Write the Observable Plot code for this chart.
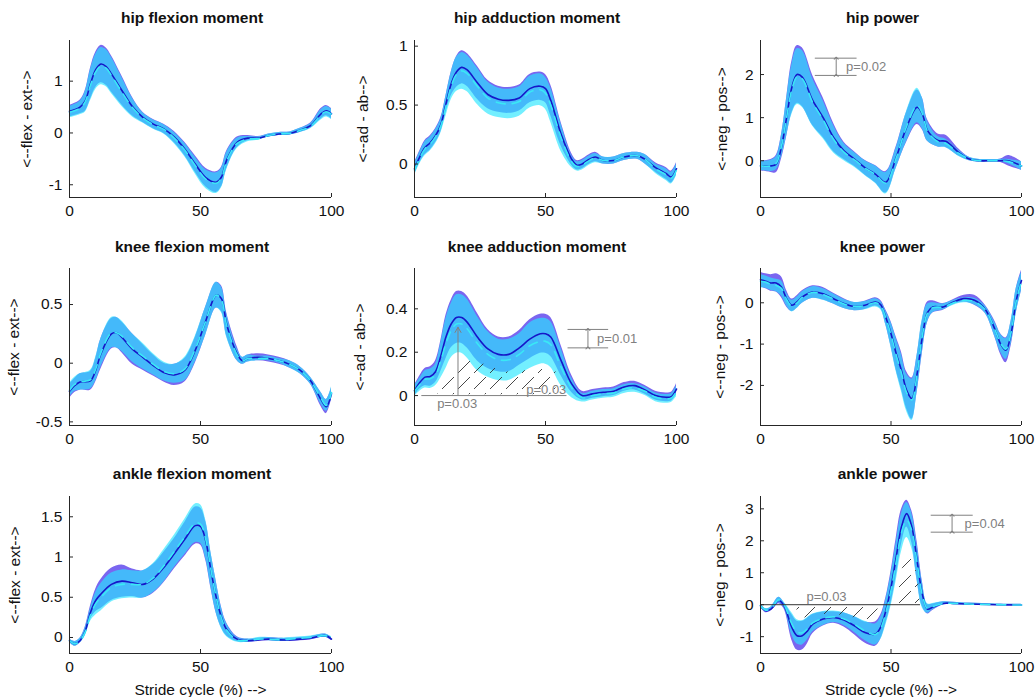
<!DOCTYPE html>
<html><head><meta charset="utf-8">
<script src="https://cdn.jsdelivr.net/npm/d3@7"></script>
<script src="https://cdn.jsdelivr.net/npm/@observablehq/plot@0.6"></script>
<style>
body{margin:0;background:#fff;font-family:"Liberation Sans",Arial,Helvetica,sans-serif;}
#root{position:relative;width:1036px;height:697px;overflow:hidden;}
.panel{position:absolute;}
.title{position:absolute;font-weight:bold;font-size:15.5px;line-height:15.5px;color:#111;white-space:nowrap;transform:translateX(-50%);}
</style>
</head><body>
<svg width="0" height="0" style="position:absolute"><defs>
<pattern id="hatch" patternUnits="userSpaceOnUse" width="16" height="16"><path d="M1,15 L13,3" stroke="#333" stroke-width="0.9" fill="none"/></pattern>
</defs></svg>
<div id="root"></div>
<script>
// ---------- data ----------
const xTicks = [0, 50, 100];
const xDomain = [0, 100];

// hip flexion moment
const hipFlexX  = [0,4,6,8,10,12,14,16,20,24,28,32,36,40,44,48,52,56,58,60,64,68,72,76,80,84,88,92,96,98,100];
const hipFlexM1 = [0.42,0.50,0.62,0.95,1.22,1.33,1.28,1.14,0.82,0.51,0.30,0.17,0.08,-0.08,-0.31,-0.60,-0.86,-0.95,-0.85,-0.52,-0.18,-0.10,-0.10,-0.05,-0.02,-0.01,0.05,0.14,0.37,0.43,0.37];
const hipFlexS1 = [0.11,0.13,0.2,0.3,0.34,0.36,0.36,0.35,0.28,0.18,0.1,0.09,0.09,0.11,0.13,0.16,0.18,0.2,0.19,0.17,0.1,0.05,0.03,0.03,0.03,0.03,0.04,0.05,0.1,0.1,0.1];
const hipFlexM2 = [0.40,0.48,0.60,0.92,1.18,1.29,1.25,1.11,0.79,0.49,0.29,0.16,0.07,-0.10,-0.33,-0.63,-0.89,-0.97,-0.87,-0.54,-0.20,-0.12,-0.11,-0.05,-0.02,-0.01,0.05,0.13,0.35,0.41,0.36];
const hipFlexS2 = [0.11,0.13,0.2,0.3,0.34,0.36,0.36,0.35,0.28,0.18,0.1,0.09,0.09,0.11,0.13,0.16,0.18,0.2,0.19,0.17,0.1,0.05,0.03,0.03,0.03,0.03,0.04,0.05,0.1,0.1,0.1];
const hipFlexDomain = [-1.246, 1.785];
const hipFlexTicks = [-1, 0, 1];

// hip adduction moment
const hipAddX  = [0,2,4,6,8,10,12,14,16,18,20,24,28,32,36,40,44,48,50,52,56,60,62,64,66,69,72,76,80,85,88,92,96,98,100];
const hipAddM1 = [-0.04,0.06,0.14,0.18,0.24,0.33,0.51,0.68,0.78,0.82,0.80,0.69,0.59,0.55,0.54,0.56,0.64,0.66,0.64,0.54,0.25,0.04,-0.01,0.0,0.03,0.06,0.03,0.03,0.06,0.07,0.04,-0.03,-0.08,-0.11,-0.04];
const hipAddS1 = [0.05,0.05,0.06,0.06,0.06,0.06,0.07,0.1,0.13,0.14,0.14,0.14,0.12,0.11,0.11,0.11,0.12,0.12,0.12,0.13,0.1,0.05,0.04,0.04,0.04,0.04,0.03,0.03,0.03,0.03,0.04,0.04,0.05,0.05,0.05];
const hipAddM2 = [-0.05,0.05,0.13,0.17,0.23,0.32,0.49,0.66,0.76,0.79,0.77,0.66,0.56,0.52,0.51,0.53,0.61,0.63,0.60,0.50,0.22,0.02,-0.02,-0.01,0.02,0.05,0.03,0.03,0.06,0.07,0.04,-0.04,-0.09,-0.12,-0.05];
const hipAddS2 = [0.05,0.05,0.06,0.06,0.06,0.06,0.085,0.115,0.145,0.155,0.155,0.155,0.135,0.125,0.125,0.125,0.135,0.135,0.135,0.145,0.115,0.05,0.04,0.04,0.04,0.04,0.03,0.03,0.03,0.03,0.04,0.04,0.05,0.05,0.05];
const hipAddDomain = [-0.284, 1.048];
const hipAddTicks = [0, 0.5, 1];

// hip power
const hipPowX  = [0,4,6,8,10,12,14,16,20,24,28,32,36,40,44,48,52,56,60,62,64,68,71,76,80,84,88,92,95,100];
const hipPowM1 = [-0.12,-0.12,-0.08,0.31,1.0,1.7,2.0,1.94,1.4,1.0,0.54,0.23,0.04,-0.16,-0.31,-0.5,0.08,0.78,1.24,1.09,0.70,0.47,0.45,0.19,0.04,0.0,0.0,0.0,0.0,-0.12];
const hipPowS1 = [0.11,0.15,0.2,0.28,0.45,0.6,0.67,0.68,0.58,0.46,0.33,0.2,0.17,0.17,0.2,0.25,0.25,0.35,0.4,0.37,0.25,0.15,0.14,0.08,0.04,0.03,0.03,0.04,0.12,0.1];
const hipPowM2 = [-0.12,-0.12,-0.06,0.33,1.0,1.65,1.95,1.9,1.35,0.95,0.5,0.2,0.02,-0.17,-0.32,-0.52,0.06,0.8,1.28,1.1,0.68,0.44,0.4,0.17,0.04,0.0,0.0,0.0,-0.02,-0.12];
const hipPowS2 = [0.1,0.13,0.15,0.25,0.43,0.58,0.65,0.66,0.55,0.44,0.32,0.2,0.17,0.17,0.2,0.25,0.24,0.35,0.4,0.36,0.23,0.12,0.1,0.07,0.04,0.03,0.03,0.03,0.05,0.1];
const hipPowDomain = [-0.853, 2.79];
const hipPowTicks = [0, 1, 2];
const hipPowBracketX = [21, 37];
const hipPowBracketY = [1.98, 2.38];
const hipPowArrowX = [29];
const hipPowLabels = [{x: 32.8, y: 2.18, text: "p=0.02", anchor: "start"}];

// knee flexion moment
const kneeFlexX  = [0,2,4,8,10,12,16,18,20,24,28,32,36,40,44,48,52,56,58,60,64,66,68,72,76,80,84,88,92,96,98,100];
const kneeFlexM1 = [-0.24,-0.19,-0.16,-0.15,-0.06,0.08,0.25,0.26,0.22,0.12,0.05,-0.02,-0.08,-0.10,-0.06,0.11,0.36,0.58,0.55,0.33,0.08,0.02,0.04,0.05,0.04,0.02,-0.01,-0.06,-0.15,-0.31,-0.37,-0.26];
const kneeFlexS1 = [0.06,0.06,0.07,0.08,0.1,0.13,0.13,0.13,0.13,0.13,0.11,0.09,0.08,0.09,0.1,0.11,0.12,0.11,0.11,0.1,0.06,0.03,0.03,0.03,0.03,0.03,0.03,0.03,0.03,0.06,0.06,0.05];
const kneeFlexM2 = [-0.23,-0.18,-0.16,-0.14,-0.05,0.09,0.26,0.26,0.23,0.13,0.06,-0.01,-0.07,-0.09,-0.05,0.12,0.36,0.58,0.54,0.32,0.07,0.02,0.04,0.04,0.04,0.02,-0.01,-0.06,-0.15,-0.30,-0.36,-0.25];
const kneeFlexS2 = [0.06,0.06,0.07,0.08,0.1,0.12,0.13,0.13,0.13,0.12,0.11,0.09,0.08,0.08,0.1,0.11,0.12,0.11,0.11,0.1,0.05,0.03,0.03,0.02,0.02,0.02,0.03,0.03,0.03,0.05,0.05,0.05];
const kneeFlexDomain = [-0.531, 0.807];
const kneeFlexTicks = [-0.5, 0, 0.5];

// knee adduction moment
const kneeAddX  = [0,2,4,6,8,10,12,14,16,18,20,24,28,32,36,40,44,48,50,52,56,60,64,68,72,76,80,84,88,92,96,98,100];
const kneeAddM1 = [0.023,0.06,0.085,0.088,0.11,0.18,0.27,0.33,0.36,0.36,0.34,0.27,0.215,0.19,0.19,0.22,0.26,0.285,0.285,0.27,0.16,0.054,0.0,0.008,0.015,0.02,0.04,0.046,0.026,0.0,-0.008,-0.005,0.03];
const kneeAddS1 = [0.025,0.03,0.04,0.045,0.05,0.07,0.1,0.11,0.12,0.12,0.12,0.11,0.09,0.08,0.08,0.08,0.09,0.09,0.09,0.09,0.07,0.04,0.02,0.02,0.02,0.02,0.02,0.02,0.02,0.02,0.02,0.02,0.025];
const kneeAddM2 = [0.02,0.05,0.075,0.078,0.095,0.16,0.24,0.30,0.33,0.33,0.31,0.24,0.19,0.165,0.165,0.19,0.23,0.25,0.25,0.235,0.13,0.035,-0.01,0.0,0.008,0.012,0.03,0.035,0.02,-0.008,-0.015,-0.012,0.02];
const kneeAddS2 = [0.025,0.03,0.04,0.045,0.05,0.08,0.115,0.125,0.135,0.135,0.135,0.125,0.105,0.095,0.095,0.095,0.105,0.105,0.105,0.105,0.085,0.045,0.02,0.02,0.02,0.02,0.02,0.02,0.02,0.02,0.02,0.02,0.025];
const kneeAddDomain = [-0.138, 0.586];
const kneeAddTicks = [0, 0.2, 0.4];
const kneeAddBaseX = [2.8, 58.2];
const kneeAddHatchX = [9,12,16,20,25,30,35,40,45,50,54];
const kneeAddHatchTop = [0.03,0.1,0.15,0.16,0.15,0.13,0.11,0.11,0.12,0.12,0.12];
const kneeAddArrow = [{x1: 16.6, y1: 0, x2: 16.6, y2: 0.315}];
const kneeAddBracketX = [58.6, 74.1];
const kneeAddBracketY = [0.22, 0.305];
const kneeAddArrowX = [66.2];
const kneeAddLabels = [
  {x: 16.3, y: -0.04, text: "p=0.03", anchor: "middle"},
  {x: 50.3, y: 0.027, text: "p=0.03", anchor: "middle"},
  {x: 69.7, y: 0.262, text: "p=0.01", anchor: "start"}
];

// knee power
const kneePowX  = [0,2,4,6,8,10,12,14,16,20,24,28,32,36,40,44,46,48,50,52,54,56,58,60,62,64,66,70,74,78,82,86,90,92,94,96,98,100];
const kneePowM1 = [0.56,0.52,0.48,0.48,0.38,0.1,-0.06,0.02,0.14,0.26,0.22,0.1,-0.02,-0.09,-0.06,0.02,-0.04,-0.35,-0.75,-1.23,-1.64,-2.12,-2.32,-1.72,-0.83,-0.23,-0.1,-0.1,0.02,0.1,0.06,-0.15,-0.67,-1.0,-1.15,-0.75,0.06,0.54];
const kneePowS1 = [0.18,0.18,0.2,0.22,0.25,0.2,0.15,0.15,0.15,0.15,0.15,0.13,0.12,0.1,0.1,0.1,0.1,0.18,0.3,0.4,0.45,0.45,0.5,0.45,0.4,0.25,0.15,0.08,0.06,0.08,0.12,0.1,0.2,0.25,0.3,0.3,0.3,0.25];
const kneePowM2 = [0.52,0.5,0.45,0.42,0.35,0.08,-0.08,0.0,0.13,0.25,0.2,0.09,-0.03,-0.09,-0.07,0.0,-0.06,-0.37,-0.78,-1.27,-1.7,-2.18,-2.35,-1.72,-0.8,-0.25,-0.12,-0.1,0.0,0.06,0.03,-0.16,-0.68,-0.98,-1.12,-0.72,0.05,0.52];
const kneePowS2 = [0.16,0.15,0.15,0.15,0.18,0.16,0.14,0.14,0.14,0.14,0.14,0.12,0.11,0.1,0.1,0.1,0.1,0.17,0.3,0.4,0.45,0.45,0.5,0.45,0.4,0.22,0.12,0.07,0.06,0.06,0.08,0.09,0.18,0.22,0.25,0.28,0.3,0.22];
const kneePowDomain = [-2.97, 0.83];
const kneePowTicks = [-2, -1, 0];

// ankle flexion moment
const ankFlexX  = [0,2,4,6,8,10,12,16,20,24,28,32,36,40,44,48,50,52,54,56,58,60,64,68,72,76,80,84,88,92,96,98,100];
const ankFlexM1 = [-0.04,-0.08,-0.04,0.08,0.31,0.46,0.54,0.66,0.70,0.68,0.66,0.73,0.87,1.04,1.22,1.39,1.38,1.2,0.83,0.5,0.25,0.1,-0.02,-0.04,-0.03,-0.02,-0.03,-0.03,-0.02,-0.01,0.02,0.02,-0.02];
const ankFlexS1 = [0.02,0.03,0.03,0.05,0.08,0.14,0.18,0.2,0.2,0.17,0.17,0.18,0.19,0.19,0.21,0.23,0.23,0.24,0.22,0.2,0.13,0.08,0.03,0.02,0.02,0.02,0.02,0.02,0.02,0.02,0.02,0.02,0.02];
const ankFlexM2 = [-0.04,-0.08,-0.04,0.07,0.28,0.42,0.5,0.62,0.66,0.66,0.66,0.74,0.89,1.07,1.25,1.42,1.41,1.22,0.84,0.5,0.24,0.09,-0.03,-0.04,-0.02,-0.02,-0.03,-0.02,-0.01,0.0,0.02,0.02,-0.01];
const ankFlexS2 = [0.02,0.03,0.03,0.05,0.08,0.14,0.17,0.18,0.18,0.17,0.17,0.18,0.2,0.2,0.22,0.24,0.24,0.24,0.22,0.2,0.13,0.08,0.03,0.02,0.02,0.02,0.02,0.02,0.02,0.02,0.02,0.02,0.02];
const ankFlexDomain = [-0.199, 1.752];
const ankFlexTicks = [0, 0.5, 1, 1.5];

// ankle power
const ankPowX  = [0,2,4,7,9,12,14,16,18,20,24,28,32,36,40,44,46,48,50,52,54,56,58,60,62,64,66,70,74,80,90,100];
const ankPowM1 = [-0.03,-0.19,-0.14,0.13,-0.03,-0.71,-0.97,-0.97,-0.82,-0.61,-0.45,-0.40,-0.48,-0.66,-0.87,-0.92,-0.71,-0.19,0.54,1.49,2.43,2.85,2.43,1.38,0.34,-0.14,-0.08,0.04,0.04,0.02,0.0,-0.01];
const ankPowS1 = [0.05,0.06,0.06,0.1,0.1,0.4,0.45,0.45,0.4,0.3,0.22,0.18,0.22,0.28,0.33,0.38,0.38,0.4,0.5,0.6,0.55,0.42,0.5,0.6,0.4,0.15,0.1,0.05,0.04,0.03,0.02,0.02];
const ankPowM2 = [-0.03,-0.17,-0.12,0.15,0.0,-0.6,-0.85,-0.88,-0.75,-0.57,-0.43,-0.38,-0.45,-0.62,-0.82,-0.93,-0.75,-0.25,0.45,1.35,2.25,2.65,2.3,1.3,0.3,-0.12,-0.06,0.04,0.04,0.02,0.0,-0.01];
const ankPowS2 = [0.05,0.05,0.05,0.08,0.08,0.35,0.38,0.38,0.35,0.28,0.22,0.18,0.2,0.25,0.3,0.33,0.35,0.4,0.5,0.6,0.6,0.55,0.55,0.55,0.4,0.15,0.1,0.05,0.04,0.03,0.02,0.02];
const ankPowDomain = [-1.527, 3.386];
const ankPowTicks = [-1, 0, 1, 2, 3];
const ankPowBaseX = [0, 61.3];
const ankPowHatch1X = [14,18,22,26,30,34,38,42,45];
const ankPowHatch1Bot = [-0.45,-0.4,-0.33,-0.3,-0.32,-0.38,-0.45,-0.5,-0.45];
const ankPowHatch2X = [51,54,57,59,61];
const ankPowHatch2Top = [0.1,1.0,1.7,1.3,0.5];
const ankPowBracketX = [65.4, 81.5];
const ankPowBracketY = [2.27, 2.8];
const ankPowArrowX = [73.4];
const ankPowLabels = [
  {x: 25.3, y: 0.24, text: "p=0.03", anchor: "middle"},
  {x: 78.2, y: 2.53, text: "p=0.04", anchor: "start"}
];

// ---------- styling ----------
const PURPLE = "#7a66f0";
const CYAN = "#28e6ff";
const BLUE_LINE = "#1616c8";
const CYAN_LINE = "#3ae8f6";
const GRAY = "#808080";
const AXIS = "#262626";
const FONT = "'Liberation Sans', Arial, Helvetica, sans-serif";

const cols = [{left: 0, width: 345, ml: 69, mr: 14}, {left: 345, width: 345, ml: 69, mr: 14}, {left: 690, width: 346, ml: 70, mr: 15}];
const rowsL = [{top: 0, height: 230, mt: 40, mb: 33, titleTop: 10}, {top: 230, height: 230, mt: 38, mb: 35, titleTop: 238.5}, {top: 460, height: 237, mt: 36, mb: 44, titleTop: 466}];

const root = document.getElementById("root");
const fmt = d => String(d);

function bracketMarks(bx, by, ax) {
  return [
    Plot.ruleY(by, {x1: bx[0], x2: bx[1], stroke: GRAY, strokeWidth: 1}),
    Plot.link(ax, {x1: d => d, x2: d => d, y1: by[0], y2: by[1], stroke: GRAY, strokeWidth: 1, markerStart: "arrow", markerEnd: "arrow"})
  ];
}
function labelMarks(labels) {
  return ["start", "middle"].map(a => Plot.text(labels.filter(d => d.anchor === a),
    {x: "x", y: "y", text: "text", textAnchor: a, fill: GRAY, fontSize: 13, fontFamily: FONT}));
}

function panel(p) {
  const c = cols[p.col], r = rowsL[p.row];
  const data = p.x.map((xi, i) => ({x: xi, m1: p.m1[i], m2: p.m2[i], lo1: p.m1[i] - p.s1[i], hi1: p.m1[i] + p.s1[i], lo2: p.m2[i] - p.s2[i], hi2: p.m2[i] + p.s2[i]}));
  const innerW = c.width - c.ml - c.mr, innerH = r.height - r.mt - r.mb;
  const curve = "catmull-rom";
  const marks = [
    Plot.areaY(data, {x: "x", y1: "lo1", y2: "hi1", fill: PURPLE, curve}),
    Plot.areaY(data, {x: "x", y1: "lo2", y2: "hi2", fill: CYAN, fillOpacity: 0.65, curve}),
    ...(p.under || []),
    Plot.lineY(data, {x: "x", y: "m1", stroke: BLUE_LINE, strokeWidth: 1.6, curve}),
    Plot.lineY(data, {x: "x", y: "m2", stroke: CYAN_LINE, strokeWidth: 1.6, strokeDasharray: "9,7", curve}),
    ...(p.over || []),
    Plot.ruleX([xDomain[0]], {stroke: AXIS, strokeWidth: 1}),
    Plot.ruleY([p.domain[0]], {stroke: AXIS, strokeWidth: 1}),
    Plot.tickX(xTicks, {x: d => d, stroke: AXIS, insetTop: innerH - 4}),
    Plot.tickY(p.ticks, {y: d => d, stroke: AXIS, insetRight: innerW - 4}),
    Plot.axisX({ticks: xTicks, tickSize: 0, tickPadding: 7, tickFormat: fmt, fontSize: 15.5, fill: "#111",
      label: p.xlabel || null, labelAnchor: "center", labelOffset: p.xlabelOffset || 40, labelArrow: "none"}),
    Plot.axisY({ticks: p.ticks, tickSize: 0, tickPadding: 7, tickFormat: fmt, fontSize: 15.5, fill: "#111",
      label: p.ylabel, labelAnchor: "center", labelOffset: p.ylabelOffset, labelArrow: "none"})
  ];
  const svg = Plot.plot({
    width: c.width, height: r.height,
    marginLeft: c.ml, marginRight: c.mr, marginTop: r.mt, marginBottom: r.mb,
    style: {fontFamily: FONT, fontSize: "15.5px", background: "transparent", overflow: "visible"},
    x: {domain: xDomain},
    y: {domain: p.domain},
    marks
  });
  svg.classList.add("panel");
  svg.style.left = c.left + "px";
  svg.style.top = r.top + "px";
  root.appendChild(svg);
  const t = document.createElement("div");
  t.className = "title";
  t.textContent = p.title;
  t.style.left = (c.left + c.ml + innerW / 2 - 8) + "px";
  t.style.top = r.titleTop + "px";
  root.appendChild(t);
}

panel({col: 0, row: 0, title: "hip flexion moment", ylabel: "<--flex - ext-->", ylabelOffset: 49,
  x: hipFlexX, m1: hipFlexM1, s1: hipFlexS1, m2: hipFlexM2, s2: hipFlexS2, domain: hipFlexDomain, ticks: hipFlexTicks});
panel({col: 1, row: 0, title: "hip adduction moment", ylabel: "<--ad - ab-->", ylabelOffset: 58,
  x: hipAddX, m1: hipAddM1, s1: hipAddS1, m2: hipAddM2, s2: hipAddS2, domain: hipAddDomain, ticks: hipAddTicks});
panel({col: 2, row: 0, title: "hip power", ylabel: "<--neg - pos-->", ylabelOffset: 45,
  x: hipPowX, m1: hipPowM1, s1: hipPowS1, m2: hipPowM2, s2: hipPowS2, domain: hipPowDomain, ticks: hipPowTicks,
  over: [...bracketMarks(hipPowBracketX, hipPowBracketY, hipPowArrowX), ...labelMarks(hipPowLabels)]});
panel({col: 0, row: 1, title: "knee flexion moment", ylabel: "<--flex - ext-->", ylabelOffset: 62,
  x: kneeFlexX, m1: kneeFlexM1, s1: kneeFlexS1, m2: kneeFlexM2, s2: kneeFlexS2, domain: kneeFlexDomain, ticks: kneeFlexTicks});
panel({col: 1, row: 1, title: "knee adduction moment", ylabel: "<--ad - ab-->", ylabelOffset: 61,
  x: kneeAddX, m1: kneeAddM1, s1: kneeAddS1, m2: kneeAddM2, s2: kneeAddS2, domain: kneeAddDomain, ticks: kneeAddTicks,
  under: [Plot.areaY(kneeAddHatchX.map((x, i) => ({x, top: kneeAddHatchTop[i]})), {x: "x", y1: 0.004, y2: "top", fill: "url(#hatch)", curve: "catmull-rom"})],
  over: [
    Plot.ruleY([0], {x1: kneeAddBaseX[0], x2: kneeAddBaseX[1], stroke: GRAY, strokeWidth: 1}),
    Plot.arrow(kneeAddArrow, {x1: "x1", y1: "y1", x2: "x2", y2: "y2", stroke: GRAY, strokeWidth: 1, headLength: 9}),
    ...bracketMarks(kneeAddBracketX, kneeAddBracketY, kneeAddArrowX),
    ...labelMarks(kneeAddLabels)
  ]});
panel({col: 2, row: 1, title: "knee power", ylabel: "<--neg - pos-->", ylabelOffset: 47,
  x: kneePowX, m1: kneePowM1, s1: kneePowS1, m2: kneePowM2, s2: kneePowS2, domain: kneePowDomain, ticks: kneePowTicks});
panel({col: 0, row: 2, title: "ankle flexion moment", ylabel: "<--flex - ext-->", ylabelOffset: 61, xlabel: "Stride cycle (%) -->", xlabelOffset: 41,
  x: ankFlexX, m1: ankFlexM1, s1: ankFlexS1, m2: ankFlexM2, s2: ankFlexS2, domain: ankFlexDomain, ticks: ankFlexTicks});
panel({col: 2, row: 2, title: "ankle power", ylabel: "<--neg - pos-->", ylabelOffset: 47, xlabel: "Stride cycle (%) -->", xlabelOffset: 41,
  x: ankPowX, m1: ankPowM1, s1: ankPowS1, m2: ankPowM2, s2: ankPowS2, domain: ankPowDomain, ticks: ankPowTicks,
  under: [
    Plot.areaY(ankPowHatch1X.map((x, i) => ({x, v: ankPowHatch1Bot[i]})), {x: "x", y1: 0, y2: "v", fill: "url(#hatch)", curve: "catmull-rom"}),
    Plot.areaY(ankPowHatch2X.map((x, i) => ({x, v: ankPowHatch2Top[i]})), {x: "x", y1: 0, y2: "v", fill: "url(#hatch)", curve: "catmull-rom"})
  ],
  over: [
    Plot.ruleY([0], {x1: ankPowBaseX[0], x2: ankPowBaseX[1], stroke: "#333", strokeWidth: 1}),
    ...bracketMarks(ankPowBracketX, ankPowBracketY, ankPowArrowX),
    ...labelMarks(ankPowLabels)
  ]});
</script>
</body></html>
